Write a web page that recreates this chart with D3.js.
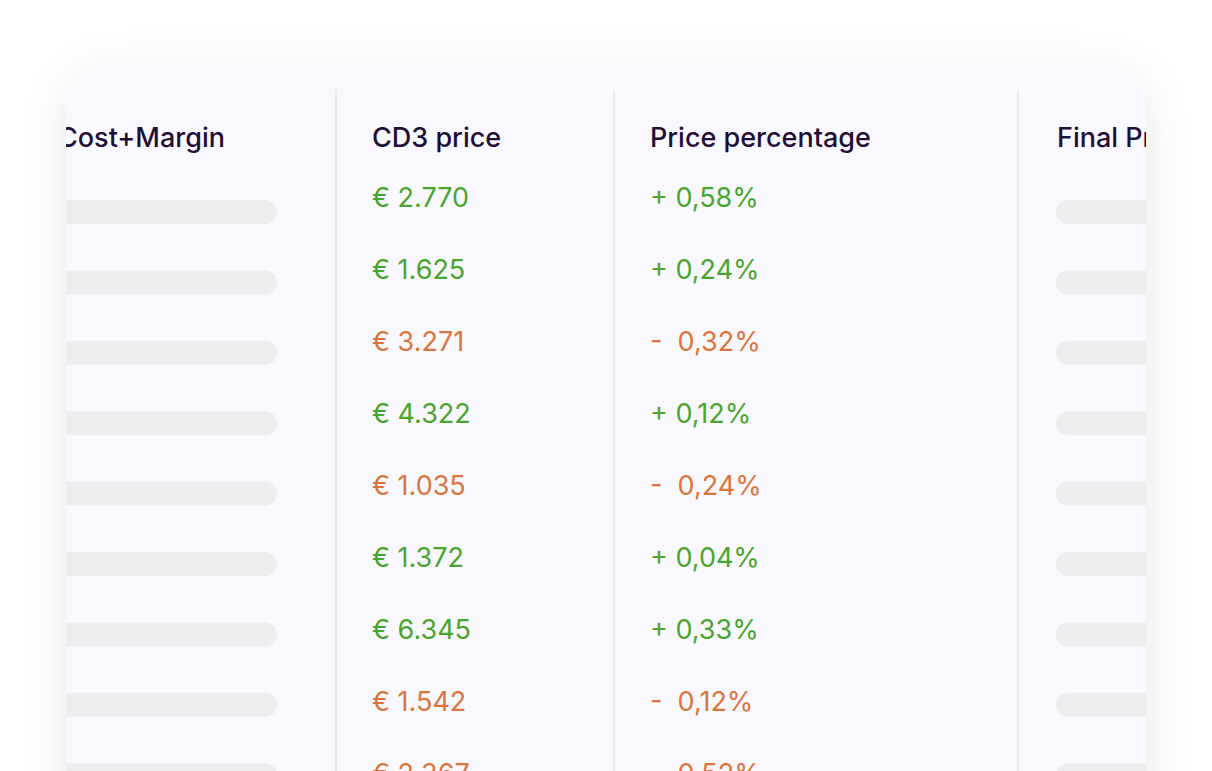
<!DOCTYPE html>
<head>
<meta charset="utf-8">
<script src="https://d3js.org/d3.v7.min.js"></script>
<style>
  body { margin: 0; background: #fff; }
  text { font-family: Inter, "Open Sans", sans-serif; }
</style>
</head>
<body>
<script>
var headers = ["Cost+Margin", "CD3 price", "Price percentage", "Final Price"]
var prices = ["€ 2.770", "€ 1.625", "€ 3.271", "€ 4.322", "€ 1.035", "€ 1.372", "€ 6.345", "€ 1.542", "€ 2.367"]
var changes = [0.58, 0.24, -0.32, 0.12, -0.24, 0.04, 0.33, -0.12, -0.52]

var W = 1212, H = 771
var svg = d3.select("body").append("svg").attr("width", W).attr("height", H)

var defs = svg.append("defs")
var f = defs.append("filter").attr("id", "sh").attr("x", "-20%").attr("y", "-20%").attr("width", "140%").attr("height", "140%")
f.append("feDropShadow").attr("dx", 0).attr("dy", 8).attr("stdDeviation", 22).attr("flood-color", "#000").attr("flood-opacity", 0.09)
defs.append("clipPath").attr("id", "card")
  .append("rect").attr("x", 66).attr("y", 63).attr("width", 1080).attr("height", 800).attr("rx", 46)

svg.append("rect").attr("x", 66).attr("y", 63).attr("width", 1080).attr("height", 800).attr("rx", 46)
  .attr("fill", "#f9f8fe").attr("filter", "url(#sh)")

var g = svg.append("g").attr("clip-path", "url(#card)")

// column dividers
var dividers = [336, 614, 1018]
g.selectAll(".div").data(dividers).enter().append("line")
  .attr("x1", d => d).attr("x2", d => d).attr("y1", 90).attr("y2", H)
  .attr("stroke", "#e6e4ee").attr("stroke-width", 1.5)

var colX = [58, 372, 650, 1057]
g.selectAll(".hdr").data(headers).enter().append("text")
  .attr("x", (d, i) => colX[i]).attr("y", 147)
  .attr("font-size", 27).attr("font-weight", 500).attr("fill", "#1f0f35")
  .text(d => d)

var idx = d3.range(prices.length)
var yText = d3.scaleLinear().domain([0, 1]).range([198, 270])
var yBar = d3.scaleLinear().domain([0, 1]).range([212, 282.4])
var colour = v => v >= 0 ? "#4aa52e" : "#d9763d"

g.selectAll(".p").data(idx).enter().append("text")
  .attr("x", 372).attr("y", i => yText(i)).attr("dy", "0.35em")
  .attr("font-size", 27).attr("fill", i => colour(changes[i]))
  .text(i => prices[i])

g.selectAll(".c").data(idx).enter().append("text")
  .attr("x", 650).attr("y", i => yText(i)).attr("dy", "0.35em")
  .attr("font-size", 27).attr("fill", i => colour(changes[i]))
  .attr("xml:space", "preserve")
  .text(i => (changes[i] >= 0 ? "+ " : "-  ") + Math.abs(changes[i]).toFixed(2).replace(".", ",") + "%")

var barCols = [[20, 277], [1056, 1200]]
barCols.forEach(function (c) {
  g.selectAll(null).data(idx).enter().append("rect")
    .attr("x", c[0]).attr("width", c[1] - c[0])
    .attr("y", i => yBar(i) - 12).attr("height", 24).attr("rx", 12)
    .attr("fill", "#ededf0")
})
</script>
</body>
